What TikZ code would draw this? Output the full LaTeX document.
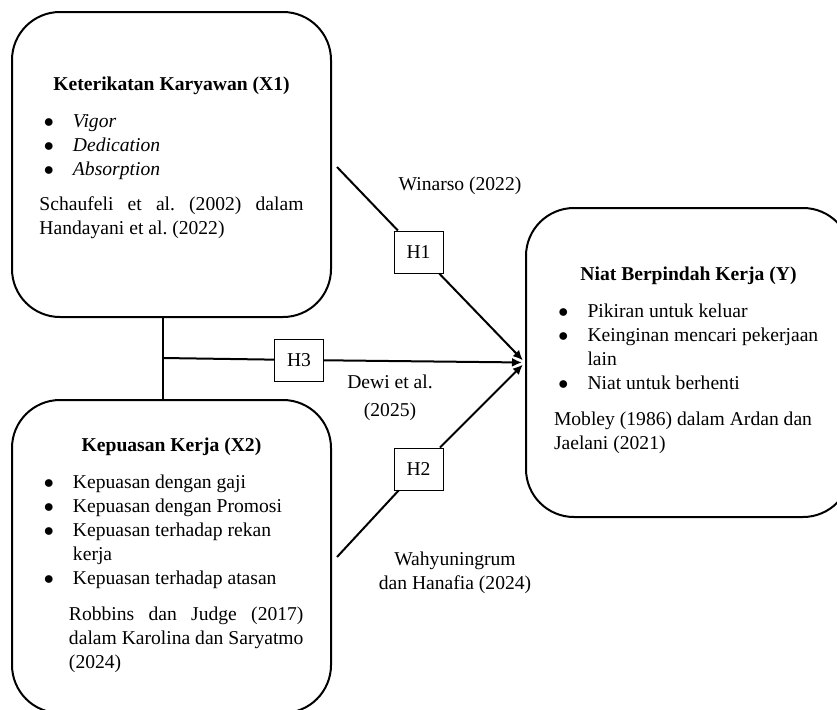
\documentclass[tikz,border=0pt]{standalone}
\usepackage{fontspec}
\setmainfont{Liberation Serif}
\usetikzlibrary{arrows.meta}
\setlength{\parindent}{0pt}
\newcommand{\poin}[1]{\par\hangindent=16.75pt\hangafter=1\hspace*{2.2pt}\makebox[14.55pt][l]{$\bullet$}#1\par}
\newcommand{\ruangbawah}[1]{\par\hrule height #1 width 0pt}

\begin{document}
\begin{tikzpicture}[x=0.5pt, y=-0.5pt, node distance=196pt, auto]
    % Define the styles for each node
    \tikzstyle{variabel} = [rectangle, draw, line width=1pt, rounded corners=24pt, align=justify, inner sep=0pt, font=\fontsize{9.8}{12}\selectfont]
    \tikzstyle{hipotesis} = [rectangle, draw, line width=0.5pt, fill=white, minimum width=24.5pt, minimum height=21pt, font=\fontsize{9.8}{12}\selectfont]
    \tikzstyle{sumber} = [align=center, inner sep=0pt, font=\fontsize{9.8}{12}\selectfont]
    \tikzstyle{jalur} = [line width=1pt]

    \useasboundingbox (0,0) rectangle (837,709);

    % Create the nodes for each variable
    \node [variabel, text width=132pt, minimum width=159.5pt, minimum height=152.5pt] (x1) at (171.5,164.5) {
        {\centering\textbf{Keterikatan Karyawan (X1)}\par}
        \vspace{6.5pt}
        \poin{\textit{Vigor}}
        \poin{\textit{Dedication}}
        \poin{\textit{Absorption}}
        \vspace{5.5pt}
        Schaufeli et al.\ (2002) dalam\linebreak Handayani et al.\ (2022)
        \ruangbawah{7pt}
    };
    \node [variabel, text width=132pt, minimum width=159.5pt, minimum height=156.5pt, below of=x1] (x2) {
        {\centering\textbf{Kepuasan Kerja (X2)}\par}
        \vspace{6.5pt}
        \poin{Kepuasan dengan gaji}
        \poin{Kepuasan dengan Promosi}
        \poin{Kepuasan terhadap rekan\\kerja}
        \poin{Kepuasan terhadap atasan}
        \vspace{6pt}
        {\leftskip=14.75pt Robbins dan Judge (2017)\linebreak dalam Karolina dan Saryatmo\linebreak (2024)\par}
        \ruangbawah{1.5pt}
    };
    \node [variabel, text width=134.5pt, minimum width=162.5pt, minimum height=154.5pt] (y) at (688.5,362.5) {
        {\centering\textbf{Niat Berpindah Kerja (Y)}\par}
        \vspace{6.5pt}
        \poin{Pikiran untuk keluar}
        \poin{Keinginan mencari pekerjaan\\lain}
        \poin{Niat untuk berhenti}
        \vspace{6pt}
        Mobley (1986) dalam Ardan dan\\Jaelani (2021)
        \ruangbawah{2pt}
    };

    % Create the nodes for the hypotheses
    \node [hipotesis] (h1) at (418.5,252) {H1};
    \node [hipotesis] (h3) at (299,360) {H3};
    \node [hipotesis] (h2) at (418.5,469) {H2};

    % Free ends of the paths
    \coordinate (awal1) at (337,167);
    \coordinate (awal2) at (337,557);
    \coordinate (simpang) at (163,358);

    % Draw the arrows between the nodes
    \draw [jalur] (x1.south -| simpang) -- (x2.north -| simpang);
    \draw [jalur] (awal1) -- (h1);
    \draw [jalur, -{Latex[length=5pt, width=4.5pt]}, shorten >=1.5pt] (h1) -- (y.west);
    \draw [jalur] (simpang) -- (h3);
    \draw [jalur, -{Latex[length=5pt, width=4.5pt]}, shorten >=1.5pt] (h3) -- (y.west);
    \draw [jalur] (awal2) -- (h2);
    \draw [jalur, -{Latex[length=5pt, width=4.5pt]}, shorten >=1.5pt] (h2) -- (y.west);

    % Add the labels for the arrows
    \node [sumber] (winarso) at (460,186) {Winarso (2022)};
    \node [sumber] (dewi) at (390,398) {Dewi et al.\\[2pt](2025)};
    \node [sumber] (wahyu) at (455,573) {Wahyuningrum\\dan Hanafia (2024)};
\end{tikzpicture}
\end{document}
